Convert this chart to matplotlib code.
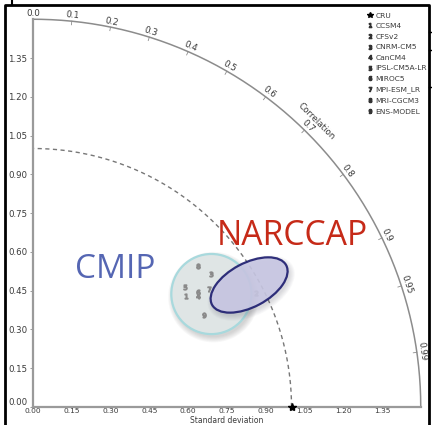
import numpy as np
import matplotlib
matplotlib.use("Agg")
import matplotlib.pyplot as plt
from matplotlib.patches import Circle, Ellipse
from matplotlib.lines import Line2D


# Taylor diagram values
models = ["CCSM4", "CFSv2", "CNRM-CM5", "CanCM4", "IPSL-CM5A-LR",
          "MIROC5", "MPI-ESM_LR", "MRI-CGCM3", "ENS-MODEL"]
std_dev = [0.73, 0.97, 0.86, 0.77, 0.75, 0.78, 0.82, 0.84, 0.75]
corr = [0.81, 0.89, 0.80, 0.83, 0.785, 0.82, 0.83, 0.76, 0.88]
ref_std = 1.0
max_std = 1.5
std_ticks = [0.00, 0.15, 0.30, 0.45, 0.60, 0.75, 0.90, 1.05, 1.20, 1.35]
corr_ticks = [0.0, 0.1, 0.2, 0.3, 0.4, 0.5, 0.6, 0.7, 0.8, 0.9, 0.95, 0.99]

# group outlines (centre x, centre y in std units)
cmip_center, cmip_radius = (0.69, 0.437), 0.155
narccap_center, narccap_size, narccap_angle = (0.836, 0.472), (0.325, 0.170), 28

W, H = 432, 425
fig = plt.figure(figsize=(W / 100, H / 100), dpi=100)
ox, oy, scale = 33, 18, 258.5
ax = fig.add_axes([ox / W, oy / H, (W - ox) / W, (H - oy) / H])
ax.set_xlim(0, (W - ox) / scale)
ax.set_ylim(0, (H - oy) / scale)

grey = "#8c8c8c"
txt = "#3a3a3a"
for s in ["top", "right"]:
    ax.spines[s].set_visible(False)
for s in ["left", "bottom"]:
    ax.spines[s].set_bounds(0, max_std)
    ax.spines[s].set_color("#9a9a9a")
    ax.spines[s].set_linewidth(1.6)
ax.set_xticks(std_ticks)
ax.set_yticks(std_ticks)
ax.set_xticklabels([f"{t:.2f}" for t in std_ticks])
ax.set_yticklabels([f"{t:.2f}" for t in std_ticks])
ax.tick_params(length=2.5, width=0.6, color=grey, labelsize=6.2, labelcolor=txt, pad=1.5)
ax.tick_params(axis="x", length=1, pad=0, labelsize=5.4)
# lift the y "0.00" a touch so it does not sit on the x "0.00"
ax.get_yticklabels()[0].set_verticalalignment("bottom")
fig.text((ox + 0.75 * scale) / W, 0, "Standard deviation", fontsize=5.5, color=txt,
         ha="center", va="bottom")

# outer arc
th = np.linspace(0, np.pi / 2, 300)
ax.plot(max_std * np.cos(th), max_std * np.sin(th), color=grey, lw=1.1, clip_on=False)
# reference std circle
ax.plot(ref_std * np.cos(th), ref_std * np.sin(th), color="#777777", lw=1.0,
        ls=(0, (3, 2.5)), clip_on=False)

# correlation ticks and labels
for c in corr_ticks:
    a = np.arccos(c)
    ax.plot([1.486 * np.cos(a), max_std * np.cos(a)], [1.486 * np.sin(a), max_std * np.sin(a)],
            color=grey, lw=0.6, clip_on=False)
    ax.text(1.522 * np.cos(a), 1.522 * np.sin(a), f"{c:g}" if c != 0 else "0.0",
            rotation=np.degrees(a) - 90, ha="center", va="center", fontsize=6.3,
            color=txt, rotation_mode="anchor", clip_on=False)
a = np.radians(45.2)
ax.text(1.555 * np.cos(a), 1.555 * np.sin(a), "Correlation", rotation=-45,
        ha="center", va="center", fontsize=6.3, color=txt, rotation_mode="anchor")

# CMIP circle with soft shadow
for k in range(6):
    ax.add_patch(Circle((cmip_center[0] + 0.008, cmip_center[1] - 0.012), cmip_radius + 0.004 * k,
                        facecolor="#6a6a6a", edgecolor="none", alpha=0.05, zorder=2))
ax.add_patch(Circle(cmip_center, cmip_radius, facecolor="#dfe5e5", edgecolor="#a8d9dd",
                    lw=1.6, zorder=3))

# model numbers
xs = np.array(std_dev) * np.array(corr)
ys = np.array(std_dev) * np.sin(np.arccos(corr))
for i, (x, y) in enumerate(zip(xs, ys)):
    ax.plot(x, y, marker=f"${i + 1}$", ms=3.5, color="#8a8a8a", ls="none", zorder=4)

# NARCCAP ellipse with shadow
for k in range(6):
    ax.add_patch(Ellipse((narccap_center[0] + 0.008, narccap_center[1] - 0.012),
                         narccap_size[0] + 0.008 * k, narccap_size[1] + 0.008 * k,
                         angle=narccap_angle, facecolor="#5a5a6a", edgecolor="none",
                         alpha=0.04, zorder=5))
ax.add_patch(Ellipse(narccap_center, *narccap_size, angle=narccap_angle,
                     facecolor="#c8c7e3", edgecolor="#1c1c6e", lw=1.6, alpha=0.9, zorder=6))

# reference point
ax.plot(ref_std, 0, marker="*", ms=6, color="black", clip_on=False, zorder=7)

ax.text(0.163, 0.498, "CMIP", fontsize=24, color="#5566b3", family="Open Sans",
        ha="left", va="baseline", zorder=8)
ax.text(0.712, 0.628, "NARCCAP", fontsize=24.3, color="#c62a18", family="Open Sans",
        ha="left", va="baseline", zorder=8)

# legend
handles = [Line2D([], [], marker="*", ms=4, color="black", ls="none")]
handles += [Line2D([], [], marker=f"${i + 1}$", ms=3, color="#333333", ls="none")
            for i in range(len(models))]
leg = fig.legend(handles, ["CRU"] + models, loc="upper left",
                 bbox_to_anchor=(362 / W, 1 - 7 / H), frameon=False, fontsize=5.4,
                 labelspacing=0.58, handlelength=0.6, handletextpad=0.5, borderpad=0.2)
for t in leg.get_texts():
    t.set_color(txt)

# black frame of the slide
fig.add_artist(Line2D([5 / W, 5 / W, 429 / W, 429 / W], [0, 1 - 5 / H, 1 - 5 / H, 0],
                      transform=fig.transFigure, color="black", lw=2))
fig.add_artist(Line2D([12 / W, 12 / W], [1 - 5 / H, 1], transform=fig.transFigure,
                      color="black", lw=1.5))
for yy in [32, 50, 87]:
    fig.add_artist(Line2D([429 / W, 1], [1 - yy / H, 1 - yy / H], transform=fig.transFigure,
                          color="black", lw=1))

fig.savefig("out.png", dpi=100)
